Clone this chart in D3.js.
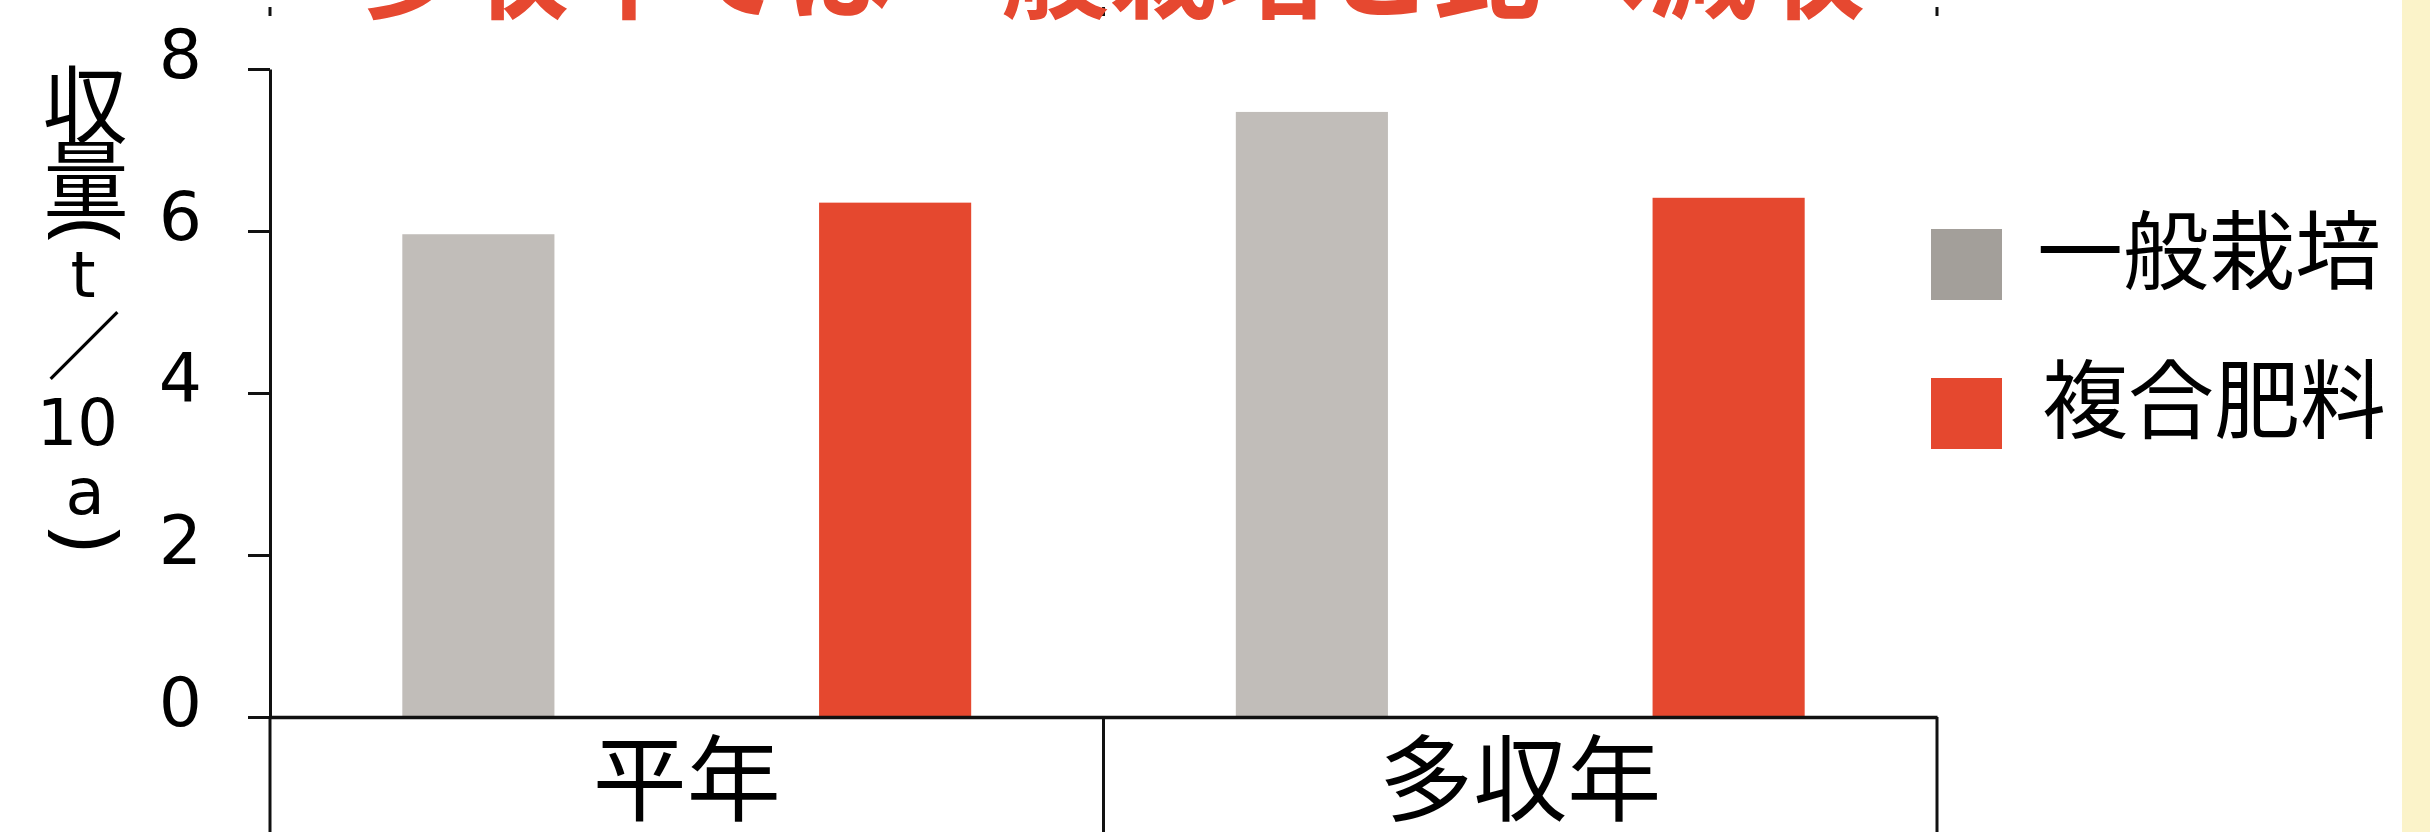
<!DOCTYPE html>
<html lang="ja">
<head>
<meta charset="UTF-8">
<title>収量</title>
<script src="https://cdn.jsdelivr.net/npm/d3@7"></script>
<style>
  body { margin: 0; background: #fff; }
  svg { display: block; }
</style>
</head>
<body>
<svg id="chart" width="2430" height="832"></svg>
<script>
// data
const categories = ['平年', '多収年'];
const seriesNames = ['一般栽培', '複合肥料'];
const ippan = [5.96, 7.47];     // 一般栽培
const fukugou = [6.35, 6.41];   // 複合肥料
const yTicks = [0, 2, 4, 6, 8];
const yLabelParts = ['収', '量', '(', 't', '／', '10', 'a', ')'];
const title = '多収年では一般栽培と比べ減収';

const barColors = ['#c1bdb9', '#e5482f'];
const legendColors = ['#a39f9a', '#e5482f'];
const JP = '"Noto Sans CJK JP", sans-serif';
const LAT = '"DejaVu Sans", sans-serif';
const PAREN = '"Noto Sans", sans-serif';

const svg = d3.select('#chart');
const W = 2430, H = 832;
const plotLeft = 270, plotRight = 1937, plotTop = 69, plotBottom = 717;

// yellow strip on the right edge
svg.append('rect').attr('x', 2402).attr('y', 0).attr('width', W - 2402).attr('height', H).attr('fill', '#fbf3c9');

const x0 = d3.scaleBand().domain(categories).range([plotLeft, plotRight]).padding(0);
const x1 = d3.scaleBand().domain(seriesNames).range([0, x0.bandwidth()])
  .paddingInner(0.635).paddingOuter(0.3175);
const y = d3.scaleLinear().domain([0, 8]).range([plotBottom, plotTop]);

const rows = categories.map((c, i) => ({ cat: c, vals: [ippan[i], fukugou[i]] }));

// bars
const groups = svg.append('g').selectAll('g')
  .data(rows).enter().append('g')
  .attr('transform', d => `translate(${x0(d.cat)},0)`);

groups.selectAll('rect')
  .data(d => d.vals.map((v, j) => ({ name: seriesNames[j], v: v, j: j })))
  .enter().append('rect')
  .attr('x', d => x1(d.name))
  .attr('y', d => y(d.v))
  .attr('width', x1.bandwidth())
  .attr('height', d => y(0) - y(d.v))
  .attr('fill', d => barColors[d.j]);

// category dividers (below the axis) and the little stubs at the top
const edges = categories.map(c => x0(c)).concat([x0.range()[1]]);
svg.append('g').selectAll('line').data(edges).enter().append('line')
  .attr('x1', d => d).attr('x2', d => d)
  .attr('y1', plotBottom).attr('y2', H)
  .attr('stroke', '#111').attr('stroke-width', 3);
svg.append('g').selectAll('line').data(edges).enter().append('line')
  .attr('x1', d => d).attr('x2', d => d)
  .attr('y1', 7).attr('y2', 16)
  .attr('stroke', '#111').attr('stroke-width', 3);

// y axis
const yAxis = svg.append('g')
  .attr('transform', `translate(${plotLeft},0)`)
  .call(d3.axisLeft(y).tickValues(yTicks).tickSize(22).tickSizeOuter(0).tickPadding(46));
yAxis.select('.domain').attr('stroke', '#111').attr('stroke-width', 3);
yAxis.selectAll('.tick line').attr('stroke', '#111').attr('stroke-width', 3);
yAxis.selectAll('.tick text')
  .attr('font-family', LAT).attr('font-size', 68).attr('fill', '#000').attr('dy', '0.13em');

// x axis with category labels
const xAxis = svg.append('g')
  .attr('transform', `translate(0,${plotBottom})`)
  .call(d3.axisBottom(x0).tickSize(0).tickSizeOuter(0).tickPadding(30));
xAxis.select('.domain').attr('stroke', '#111').attr('stroke-width', 3.5);
xAxis.selectAll('.tick text')
  .attr('font-family', JP).attr('font-size', 94).attr('fill', '#000');

// vertical y label, stacked glyph by glyph; each glyph's ink is centred on its slot
// (measured with canvas), the brackets are turned on their side
const ctx = document.createElement('canvas').getContext('2d');
function ink(txt, fs, fam) {
  ctx.font = `${fs}px ${fam}`;
  const m = ctx.measureText(txt);
  return {
    cx: (m.actualBoundingBoxRight - m.actualBoundingBoxLeft) / 2,
    cy: (m.actualBoundingBoxDescent - m.actualBoundingBoxAscent) / 2,
    h: m.actualBoundingBoxAscent + m.actualBoundingBoxDescent
  };
}
const parenFs = 100 * 72 / ink('(', 100, PAREN).h;
const slots = [
  { x: 85, y: 104, fs: 85, fam: JP },
  { x: 86, y: 179, fs: 85, fam: JP },
  { x: 84, y: 231, fs: parenFs, fam: PAREN, rot: true },
  { x: 83, y: 274, fs: 64, fam: LAT },
  { x: 84, y: 345, fs: 74, fam: JP },
  { x: 79, y: 421, fs: 64, fam: LAT },
  { x: 84, y: 496, fs: 64, fam: LAT },
  { x: 84, y: 539, fs: parenFs, fam: PAREN, rot: true }
];
const yLabel = svg.append('g').selectAll('g').data(yLabelParts).enter().append('g')
  .attr('transform', (d, i) => `translate(${slots[i].x},${slots[i].y})` + (slots[i].rot ? ' rotate(90)' : ''));
yLabel.append('text')
  .each(function (d, i) {
    const s = slots[i], m = ink(d, s.fs, s.fam);
    d3.select(this)
      .attr('x', -m.cx).attr('y', -m.cy)
      .attr('font-family', s.fam).attr('font-size', s.fs);
  })
  .attr('fill', '#000')
  .text(d => d);

// legend
const legend = svg.append('g').selectAll('g').data(seriesNames).enter().append('g')
  .attr('transform', (d, i) => `translate(1931,${229 + i * 149})`);
legend.append('rect').attr('width', 71).attr('height', 71)
  .attr('fill', (d, i) => legendColors[i]);
legend.append('text')
  .attr('x', (d, i) => 106 + i * 5).attr('y', 54)
  .attr('font-family', JP).attr('font-size', 86).attr('fill', '#000')
  .text(d => d);

// title, mostly cut off by the top edge
svg.append('text')
  .attr('x', 353).attr('y', 10)
  .attr('font-family', JP).attr('font-weight', 'bold').attr('font-size', 108)
  .attr('fill', '#e64830')
  .text(title);
</script>
</body>
</html>
